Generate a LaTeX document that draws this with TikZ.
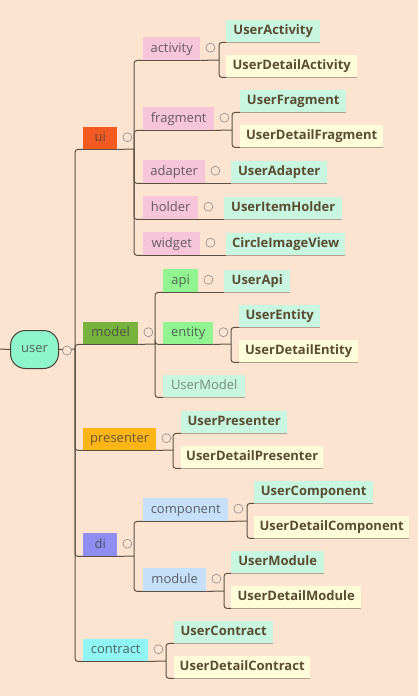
\documentclass[tikz,border=0pt]{standalone}
\usepackage{fontspec}
\setmainfont{Open Sans}
\usetikzlibrary{calc,backgrounds}
\definecolor{bg}{HTML}{FCE4D0}
\definecolor{edge}{HTML}{5B5143}
\definecolor{rootc}{HTML}{8FF5CC}
\definecolor{uic}{HTML}{F25A22}
\definecolor{modelc}{HTML}{78B23E}
\definecolor{presc}{HTML}{FDB515}
\definecolor{dic}{HTML}{8E8EF2}
\definecolor{contc}{HTML}{8FF5F5}
\definecolor{pinkc}{HTML}{F6C5D8}
\definecolor{greenc}{HTML}{90F590}
\definecolor{bluec}{HTML}{C6E0FA}
\definecolor{mintc}{HTML}{C9F6E1}
\definecolor{yelc}{HTML}{FEFDD9}
\definecolor{boldtext}{HTML}{594C33}
\newcommand\mmbox[7]{\node[#6, anchor=north west, minimum width={#4pt-#2pt}, minimum height={#5pt-#3pt}] (#1) at (#2,#3) {#7};}
\begin{document}
\begin{tikzpicture}[x=1pt,y=-1pt,
  every node/.style={font=\fontsize{13pt}{15pt}\selectfont, inner sep=0pt, text height=9.6pt, text depth=2.8pt},
  topic/.style={text=black!75, text opacity=0.8},
  leafb/.style={text=boldtext, font=\fontsize{13pt}{15pt}\selectfont\bfseries},
  mint/.style={leafb, fill=mintc},
  yel/.style={leafb, fill=yelc},
  conn/.style={draw=edge, line width=1pt, rounded corners=3pt},
  uline/.style={draw=edge!45!bg, line width=1pt},
  tog/.style={circle, draw=black!45, line width=0.6pt, fill=bg, minimum size=9pt, inner sep=0pt, text height=, text depth=}]
\useasboundingbox (0,0) rectangle (418,696);
% root
\node[draw=edge!80!black, line width=1pt, fill=rootc, rounded corners=15pt, minimum width=48pt, minimum height=38pt, text=black!75, text opacity=0.8, anchor=north west] (user) at (10,330) {user};
\coordinate (in) at (0,349);
% level 1
\mmbox{ui}{83}{127}{117}{149}{topic, fill=uic}{ui}
\mmbox{model}{83}{322}{138}{344}{topic, fill=modelc}{model}
\mmbox{presenter}{83}{428}{156}{450}{topic, fill=presc}{presenter}
\mmbox{di}{83}{533}{117}{556}{topic, fill=dic}{di}
\mmbox{contract}{83}{639}{148}{661}{topic, fill=contc}{contract}
% ui children
\mmbox{activity}{143}{37}{200}{60}{topic, fill=pinkc}{activity}
\mmbox{fragment}{143}{107}{214}{130}{topic, fill=pinkc}{fragment}
\mmbox{adapter}{143}{160}{205}{183}{topic, fill=pinkc}{adapter}
\mmbox{holder}{143}{196}{198}{219}{topic, fill=pinkc}{holder}
\mmbox{widget}{143}{232}{200}{255}{topic, fill=pinkc}{widget}
\mmbox{uact}{226}{20}{320}{42}{mint}{UserActivity}
\mmbox{udact}{226}{55}{357}{77}{yel}{UserDetailActivity}
\mmbox{ufrag}{240}{90}{346}{112}{mint}{UserFragment}
\mmbox{udfrag}{240}{125}{383}{147}{yel}{UserDetailFragment}
\mmbox{uadapt}{231}{161}{327}{183}{mint}{UserAdapter}
\mmbox{uholder}{224}{197}{342}{219}{mint}{UserItemHolder}
\mmbox{civ}{226}{233}{345}{255}{mint}{CircleImageView}
% model children
\mmbox{api}{163}{269}{198}{292}{topic, fill=greenc}{api}
\mmbox{entity}{163}{322}{213}{344}{topic, fill=greenc}{entity}
\mmbox{umodel}{163}{375}{245}{397}{topic, fill=mintc, text opacity=0.6}{UserModel}
\mmbox{uapi}{224}{270}{290}{292}{mint}{UserApi}
\mmbox{uent}{239}{305}{320}{327}{mint}{UserEntity}
\mmbox{udent}{239}{340}{358}{362}{yel}{UserDetailEntity}
% presenter children
\mmbox{upres}{181}{411}{287}{433}{mint}{UserPresenter}
\mmbox{udpres}{181}{446}{323}{468}{yel}{UserDetailPresenter}
% di children
\mmbox{component}{143}{498}{228}{521}{topic, fill=bluec}{component}
\mmbox{module}{143}{568}{206}{591}{topic, fill=bluec}{module}
\mmbox{ucomp}{254}{481}{373}{503}{mint}{UserComponent}
\mmbox{udcomp}{254}{516}{409}{538}{yel}{UserDetailComponent}
\mmbox{umod}{231}{551}{324}{573}{mint}{UserModule}
\mmbox{udmod}{231}{586}{361}{608}{yel}{UserDetailModule}
% contract children
\mmbox{ucont}{174}{621}{273}{643}{mint}{UserContract}
\mmbox{udcont}{174}{656}{310}{678}{yel}{UserDetailContract}
% junctions
\coordinate (rj) at (75,349);
\coordinate (uij) at (134,149);
\coordinate (aj) at (219,60);
\coordinate (fj) at (232,130);
\coordinate (mj) at (155,344);
\coordinate (ej) at (231,344);
\coordinate (pj) at (173,450);
\coordinate (dj) at (134,556);
\coordinate (cj) at (247,521);
\coordinate (moj) at (224,591);
\coordinate (coj) at (166,661);
\begin{pgfonlayer}{background}
\fill[bg] (0,0) rectangle (418,696);
% light underlines of the leaf topics
\foreach \k in {uact,udact,ufrag,udfrag,uadapt,uholder,civ,uapi,uent,udent,umodel,upres,udpres,ucomp,udcomp,umod,udmod,ucont,udcont}
  \draw[uline] (\k.south west) -- (\k.south east);
\draw[conn] (in) -- (user.west);
\draw[conn] (user.east) -- (rj);
\foreach \k in {ui,model,presenter,di,contract} \draw[conn] (rj) |- (\k.south west) -- (\k.south east);
\draw[conn] (ui.south east) -- (uij);
\foreach \k in {activity,fragment,adapter,holder,widget} \draw[conn] (uij) |- (\k.south west) -- (\k.south east);
\draw[conn] (activity.south east) -- (aj);
\foreach \k in {uact,udact} \draw[conn] (aj) |- (\k.south west);
\draw[conn] (fragment.south east) -- (fj);
\foreach \k in {ufrag,udfrag} \draw[conn] (fj) |- (\k.south west);
\draw[conn] (adapter.south east) -- (uadapt.south west);
\draw[conn] (holder.south east) -- (uholder.south west);
\draw[conn] (widget.south east) -- (civ.south west);
\draw[conn] (model.south east) -- (mj);
\foreach \k in {api,entity} \draw[conn] (mj) |- (\k.south west) -- (\k.south east);
\draw[conn] (mj) |- (umodel.south west);
\draw[conn] (api.south east) -- (uapi.south west);
\draw[conn] (entity.south east) -- (ej);
\foreach \k in {uent,udent} \draw[conn] (ej) |- (\k.south west);
\draw[conn] (presenter.south east) -- (pj);
\foreach \k in {upres,udpres} \draw[conn] (pj) |- (\k.south west);
\draw[conn] (di.south east) -- (dj);
\foreach \k in {component,module} \draw[conn] (dj) |- (\k.south west) -- (\k.south east);
\draw[conn] (component.south east) -- (cj);
\foreach \k in {ucomp,udcomp} \draw[conn] (cj) |- (\k.south west);
\draw[conn] (module.south east) -- (moj);
\foreach \k in {umod,udmod} \draw[conn] (moj) |- (\k.south west);
\draw[conn] (contract.south east) -- (coj);
\foreach \k in {ucont,udcont} \draw[conn] (coj) |- (\k.south west);
\end{pgfonlayer}
% collapse indicators
\node[tog] (tuser) at ($(user.east)+(8,1)$) {};
\foreach \k in {ui,model,presenter,di,contract,activity,fragment,adapter,holder,widget,api,entity,component,module}
  \node[tog] (t\k) at ($(\k.east)+(10,-1)$) {};
\end{tikzpicture}
\end{document}
